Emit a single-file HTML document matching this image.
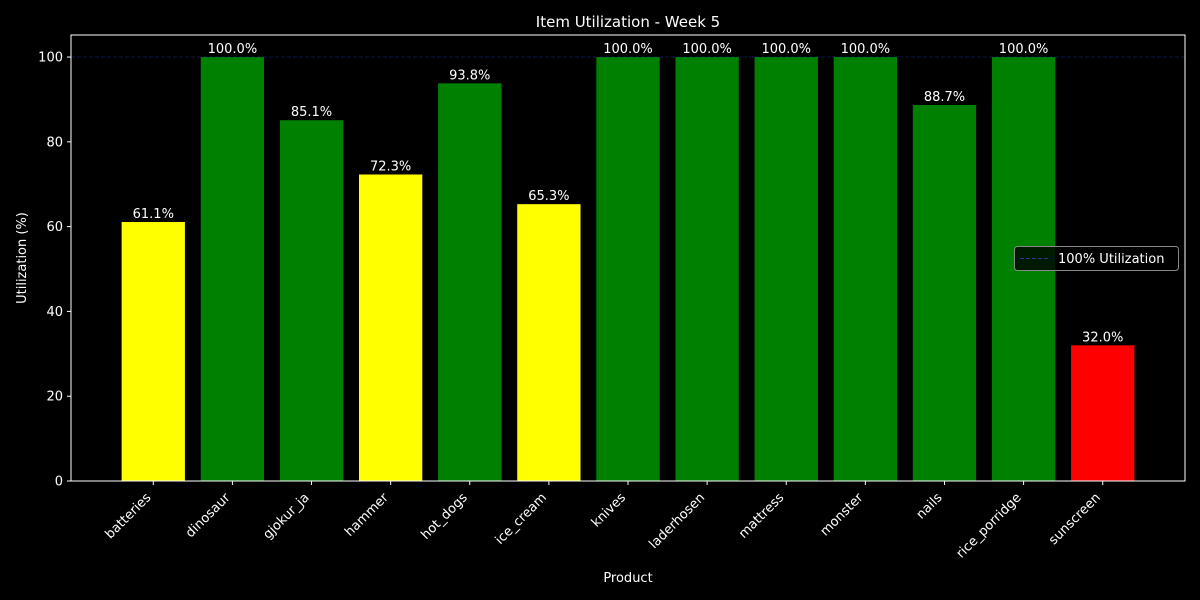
<!DOCTYPE html>
<html><head><meta charset="utf-8"><style>
body{margin:0;background:#000;width:1200px;height:600px;overflow:hidden;font-family:"Liberation Sans","DejaVu Sans",sans-serif}
svg{display:block}
svg text{font-family:"DejaVu Sans","Liberation Sans",sans-serif;fill:#fff}
</style></head><body>
<svg id="chart" width="1200" height="600"></svg>
<script>
const categories=["batteries","dinosaur","gjokur_ja","hammer","hot_dogs","ice_cream","knives","laderhosen","mattress","monster","nails","rice_porridge","sunscreen"];
const values=[61.1,100,85.1,72.3,93.8,65.3,100,100,100,100,88.7,100,32.0];
const yTicks=[0,20,40,60,80,100];
const NS="http://www.w3.org/2000/svg";
const svg=document.getElementById('chart');
const L=71,R=1185,T=35,B=481;
const xMin=-1.04,xMax=13.04,yMax=105.2;
const xs=v=>L+(v-xMin)/(xMax-xMin)*(R-L);
const ys=v=>B-v/yMax*(B-T);
function mk(tag,attrs,txt){const e=document.createElementNS(NS,tag);for(const k in attrs)e.setAttribute(k,attrs[k]);if(txt!==undefined)e.textContent=txt;svg.appendChild(e);return e;}
function color(v){return v>=80?'#008000':(v>=50?'#ffff00':'#ff0000');}
const bw=(xs(0.8)-xs(0));
values.forEach((v,i)=>{
  const r=mk('rect',{x:xs(i)-bw/2,y:ys(v),width:bw,height:B-ys(v),fill:color(v)});
  
  
  const t=mk('text',{x:xs(i),y:ys(v)-4,'text-anchor':'middle','font-size':13},v.toFixed(1)+'%');
  
  
});
const ref=mk('line',{x1:L,x2:R,y1:ys(100),y2:ys(100),stroke:'#3050ff','stroke-opacity':0.3,'stroke-dasharray':'4,2','stroke-width':1});


const frame=mk('rect',{x:L,y:T,width:R-L,height:B-T,fill:'none',stroke:'#fff','stroke-width':1});


yTicks.forEach(v=>{
  const tk=mk('line',{x1:L-4,x2:L,y1:ys(v),y2:ys(v),stroke:'#fff'});
  
  
  const t=mk('text',{x:L-8,y:ys(v)+4.5,'text-anchor':'end','font-size':13},String(v));
  
  
});
categories.forEach((c,i)=>{
  const tk=mk('line',{x1:xs(i),x2:xs(i),y1:B,y2:B+4,stroke:'#fff'});
  
  
  const x=xs(i)-8,y=B+11;
  const t=mk('text',{x:x,y:y,'text-anchor':'end','font-size':13,transform:`rotate(-45 ${x} ${y})`,'dominant-baseline':'hanging'},c);
  
  
});
const title=mk('text',{x:(L+R)/2,y:27,'text-anchor':'middle','font-size':15},'Item Utilization - Week 5');


const xt=mk('text',{x:(L+R)/2,y:582,'text-anchor':'middle','font-size':13},'Product');


const yt=mk('text',{x:26,y:(T+B)/2,'text-anchor':'middle','font-size':13,transform:`rotate(-90 26 ${(T+B)/2})`},'Utilization (%)');


const lg=mk('rect',{x:1014.5,y:246.5,width:164,height:24,rx:3,fill:'#000','fill-opacity':0.8,stroke:'#888'});


const ll=mk('line',{x1:1020,x2:1048,y1:258.5,y2:258.5,stroke:'#3050ff','stroke-opacity':0.6,'stroke-dasharray':'4,2'});


const lt=mk('text',{x:1058,y:263,'font-size':13},'100% Utilization');


</script>
</body></html>
